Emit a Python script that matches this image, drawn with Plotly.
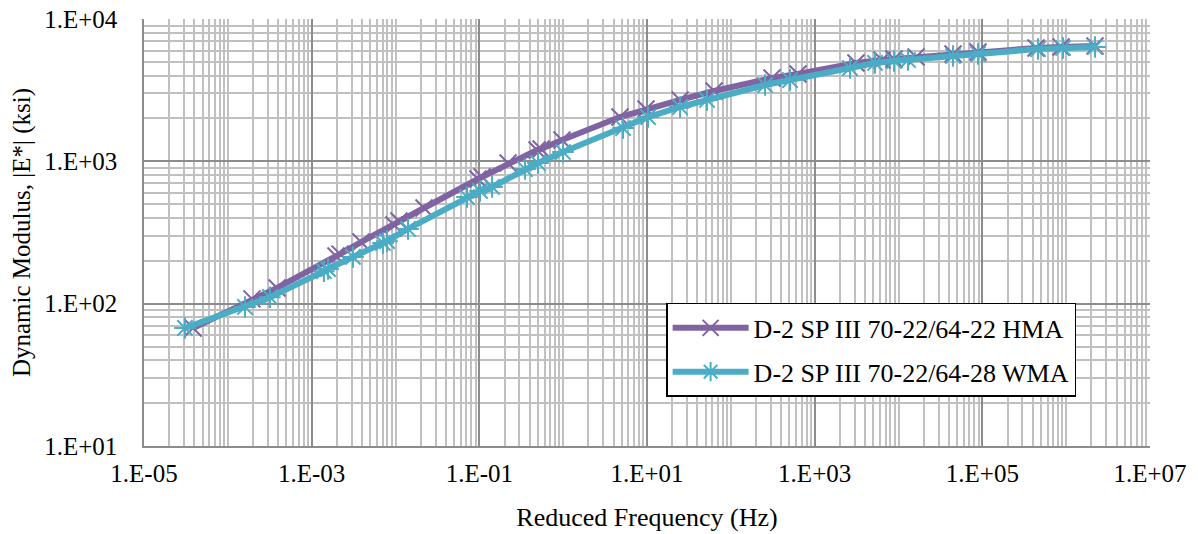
import plotly.graph_objects as go

# HMA (purple) reduced frequency (Hz) and |E*| (ksi)
hma_freq = [3.85e-5, 1.94e-4, 3.87e-4, 1.95e-3, 2.18e-3, 3.88e-3, 9.59e-3, 1.10e-2, 2.19e-2,
            9.64e-2, 0.108, 0.220, 0.488, 0.545, 0.968, 4.76, 9.73, 24.8, 63.1, 310, 632,
            3110, 6360, 8850, 16200, 44700, 88900, 4.37e5, 8.69e5, 2.21e6]
hma_mod = [67.5, 108, 129, 216, 223, 271, 357, 381, 470,
           751, 776, 973, 1202, 1222, 1413, 2048, 2333, 2698, 3119, 3846, 4111,
           4909, 5152, 5236, 5408, 5675, 5864, 6256, 6356, 6459]

# WMA (cyan)
wma_freq = [3.08e-5, 1.60e-4, 3.18e-4, 1.40e-3, 1.57e-3, 3.11e-3, 7.10e-3, 7.93e-3, 1.41e-2,
            7.13e-2, 0.102, 0.142, 0.351, 0.501, 0.995, 5.18, 10.3, 24.8, 52.0, 256, 508,
            2640, 5250, 8850, 13000, 44700, 88900, 4.62e5, 9.18e5, 2.21e6]
wma_mod = [67.5, 94.8, 111, 169, 175, 213, 267, 275, 335,
           561, 619, 661, 883, 973, 1163, 1714, 2048, 2408, 2698, 3436, 3726,
           4525, 4909, 5070, 5152, 5495, 5675, 6152, 6256, 6356]

x_tickvals = [1e-5, 1e-3, 1e-1, 1e1, 1e3, 1e5, 1e7]
x_ticktext = ["1.E-05", "1.E-03", "1.E-01", "1.E+01", "1.E+03", "1.E+05", "1.E+07"]
y_tickvals = [1e1, 1e2, 1e3, 1e4]
y_ticktext = ["1.E+01", "1.E+02", "1.E+03", "1.E+04"]

names = ["D-2 SP III 70-22/64-22 HMA", "D-2 SP III 70-22/64-28 WMA"]
purple = "#8064A2"
cyan = "#4BACC6"

x_minor = [k * 10.0 ** d for d in range(-5, 7) for k in range(1, 10)
           if not (k == 1 and d % 2 != 0)]
y_minor = [k * 10.0 ** d for d in range(1, 4) for k in range(2, 10)]

font_family = "Liberation Serif"

fig = go.Figure()
fig.add_trace(go.Scatter(
    x=hma_freq, y=hma_mod, name=names[0], mode="lines+markers", legendgroup="a",
    line=dict(color=purple, width=6),
    marker=dict(symbol="x-thin", size=17, color=purple, line=dict(color=purple, width=2)),
))
fig.add_trace(go.Scatter(
    x=wma_freq, y=wma_mod, name=names[1], mode="lines+markers", legendgroup="b",
    line=dict(color=cyan, width=6),
    marker=dict(symbol="asterisk", size=18, color=cyan, line=dict(color=cyan, width=2)),
))

fig.update_layout(
    width=1198, height=534,
    margin=dict(l=144, r=48, t=19, b=88),
    paper_bgcolor="white", plot_bgcolor="white",
    font=dict(family=font_family, size=25, color="black"),
    showlegend=True,
    legend=dict(
        x=0.519, y=0.335, xanchor="left", yanchor="top",
        bgcolor="white", bordercolor="black", borderwidth=1.5,
        font=dict(family=font_family, size=26, color="black"),
        tracegroupgap=7, itemwidth=76,
        entrywidth=350, entrywidthmode="pixels",
    ),
    xaxis=dict(
        type="log", range=[-5, 7], automargin=False,
        tickmode="array", tickvals=x_tickvals, ticktext=x_ticktext,
        showgrid=True, gridcolor="#8c8c8c", gridwidth=1.5,
        showline=True, linecolor="#8c8c8c", linewidth=1.5,
        ticks="", tickfont=dict(size=25), ticklabelstandoff=4,
        minor=dict(tickmode="array", tickvals=x_minor, showgrid=True,
                   gridcolor="#c0c0c0", gridwidth=1.5),
        title=dict(text="Reduced Frequency (Hz)", font=dict(size=26), standoff=22),
        zeroline=False,
    ),
    yaxis=dict(
        type="log", range=[1, 4], automargin=False,
        tickmode="array", tickvals=y_tickvals, ticktext=y_ticktext,
        showgrid=True, gridcolor="#8c8c8c", gridwidth=1.5,
        showline=True, linecolor="#8c8c8c", linewidth=1.5,
        ticks="", tickfont=dict(size=25), ticklabelstandoff=20,
        minor=dict(tickmode="array", tickvals=y_minor, showgrid=True,
                   gridcolor="#c0c0c0", gridwidth=1.5),
        title=dict(text="Dynamic Modulus, |E*| (ksi)", font=dict(size=25), standoff=6),
        zeroline=False,
    ),
)

fig.write_html("out.html")
